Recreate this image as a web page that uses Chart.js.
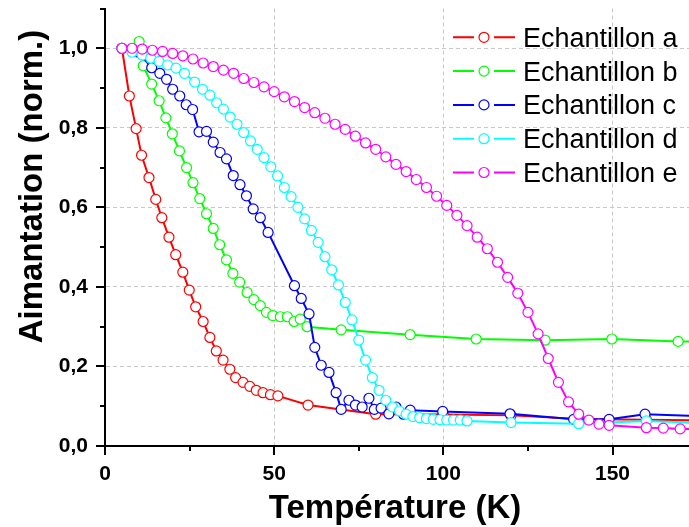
<!DOCTYPE html>
<html>
<head>
<meta charset="utf-8">
<script src="https://cdn.jsdelivr.net/npm/chart.js@4.4.1/dist/chart.umd.min.js"></script>
<style>
  html, body { margin: 0; padding: 0; background: #fff; }
</style>
</head>
<body>
<canvas id="grafico-aimantation" width="689" height="527"></canvas>
<script>
// Données (température en K, aimantation normalisée)
const nomsSeries = ['Echantillon a', 'Echantillon b', 'Echantillon c', 'Echantillon d', 'Echantillon e'];
const couleurs = ['#ff0000', '#00ff00', '#0000ff', '#00ffff', '#ff00ff'];

const tempA = [5, 7.2, 9.2, 10.8, 13, 15, 16.8, 18.9, 20.9, 23, 24.9, 26.8, 29, 31, 32.9, 34.9, 36.9, 38.6, 40.8, 42.8, 44.7, 46.7, 48.9, 51.1, 60, 80, 100, 120, 140, 160, 180];
const aimA = [1.0, 0.880, 0.798, 0.731, 0.675, 0.620, 0.574, 0.525, 0.481, 0.437, 0.392, 0.350, 0.313, 0.273, 0.239, 0.216, 0.193, 0.172, 0.160, 0.150, 0.140, 0.134, 0.129, 0.126, 0.103, 0.080, 0.079, 0.077, 0.068, 0.066, 0.064];

const tempB = [10.1, 11.3, 13.8, 16, 18, 19.9, 22, 24.1, 26, 28, 30, 32, 33.9, 35.9, 37.8, 39.8, 42, 44, 45.9, 47.7, 49.6, 51.8, 53.9, 55.9, 57.7, 59.7, 69.8, 90.2, 109.7, 130.1, 149.8, 169.4, 190];
const aimB = [1.017, 0.956, 0.910, 0.868, 0.825, 0.785, 0.742, 0.700, 0.662, 0.622, 0.584, 0.547, 0.506, 0.468, 0.434, 0.412, 0.386, 0.368, 0.353, 0.336, 0.328, 0.325, 0.325, 0.313, 0.319, 0.300, 0.292, 0.280, 0.269, 0.266, 0.269, 0.263, 0.262];

const tempC = [5, 10, 13.8, 16.2, 18.2, 20, 22.1, 24, 25.9, 27.8, 30, 32, 34, 35.9, 37.9, 39.9, 41.8, 43.8, 45.9, 48.2, 56, 58, 60.3, 62, 63.9, 66.2, 68.3, 69.8, 72.1, 74, 76, 78, 79.6, 81.6, 83.9, 86, 88.2, 90.2, 99.8, 119.7, 138.5, 149, 159.6, 180];
const aimC = [1.0, 0.99, 0.951, 0.937, 0.922, 0.897, 0.880, 0.858, 0.846, 0.790, 0.791, 0.764, 0.738, 0.722, 0.680, 0.657, 0.629, 0.596, 0.574, 0.537, 0.403, 0.371, 0.332, 0.248, 0.203, 0.185, 0.134, 0.092, 0.115, 0.103, 0.098, 0.120, 0.092, 0.095, 0.081, 0.098, 0.080, 0.090, 0.087, 0.081, 0.067, 0.067, 0.080, 0.074];

const tempD = [5, 8, 11, 13.5, 16, 18.5, 21, 23.5, 26.5, 28.8, 31, 33, 35, 37, 39, 41, 43, 45, 47, 49, 51, 53, 55, 57, 59, 61, 63, 65, 67, 69, 71, 73, 75, 77, 79, 81, 83, 85, 87, 89, 91, 93, 95, 97, 99, 101, 103, 105, 107, 120, 140, 160, 180];
const aimD = [1.0, 0.99, 0.983, 0.975, 0.967, 0.958, 0.950, 0.937, 0.915, 0.897, 0.882, 0.863, 0.847, 0.827, 0.809, 0.788, 0.767, 0.746, 0.725, 0.702, 0.679, 0.650, 0.627, 0.600, 0.571, 0.542, 0.512, 0.476, 0.443, 0.405, 0.361, 0.317, 0.266, 0.216, 0.172, 0.140, 0.115, 0.098, 0.088, 0.080, 0.074, 0.071, 0.069, 0.067, 0.066, 0.065, 0.065, 0.065, 0.063, 0.059, 0.056, 0.063, 0.057];

const tempE = [5, 8, 11, 14, 17, 20, 23, 26, 29, 32, 35, 38, 41, 44, 47, 50, 53, 56, 59, 62, 65, 68, 71, 74, 77, 80, 83, 86, 89, 92, 95, 98, 101, 104, 107, 110, 113, 116, 119, 122, 125, 128, 131, 134, 137, 140, 143, 146, 149, 160, 165, 170, 180];
const aimE = [1.0, 1.0, 0.998, 0.995, 0.992, 0.987, 0.981, 0.973, 0.963, 0.954, 0.945, 0.937, 0.924, 0.914, 0.903, 0.891, 0.878, 0.866, 0.851, 0.838, 0.824, 0.809, 0.796, 0.779, 0.762, 0.746, 0.727, 0.708, 0.690, 0.670, 0.650, 0.628, 0.605, 0.580, 0.554, 0.525, 0.496, 0.462, 0.424, 0.384, 0.336, 0.282, 0.220, 0.160, 0.111, 0.080, 0.065, 0.055, 0.052, 0.046, 0.045, 0.043, 0.042];

const temperatures = [tempA, tempB, tempC, tempD, tempE];
const aimantations = [aimA, aimB, aimC, aimD, aimE];

const titreX = 'Température (K)';
const titreY = 'Aimantation (norm.)';

const policeTitre = 'bold 33px "Liberation Sans", Arial, sans-serif';
const policeLegende = '27px "Liberation Sans", Arial, sans-serif';

// Jeux de données : e dessiné au-dessus, a en dessous
const datasets = nomsSeries.map((nom, i) => ({
  label: nom,
  data: temperatures[i].map((t, k) => ({ x: t, y: aimantations[i][k] })),
  borderColor: couleurs[i],
  backgroundColor: '#ffffff',
  borderWidth: 2,
  pointRadius: 5,
  pointBorderWidth: 1.2,
  pointBackgroundColor: '#ffffff',
  pointBorderColor: couleurs[i],
  tension: 0,
  order: 4 - i,
}));

// Petites et grandes graduations, vers l'extérieur
const graduations = {
  id: 'graduations',
  afterDraw(chart) {
    const ctx = chart.ctx;
    const sx = chart.scales.x, sy = chart.scales.y;
    const area = chart.chartArea;
    ctx.save();
    ctx.strokeStyle = '#000';
    ctx.lineWidth = 2;
    sx.ticks.forEach(t => {
      if (Math.abs(t.value % 25) > 1e-6) return;
      const px = Math.round(sx.getPixelForValue(t.value));
      const len = t.value % 50 === 0 ? 9 : 5;
      ctx.beginPath();
      ctx.moveTo(px, area.bottom);
      ctx.lineTo(px, area.bottom + len);
      ctx.stroke();
    });
    sy.ticks.forEach(t => {
      const n = Math.round(t.value * 10);
      const py = Math.round(sy.getPixelForValue(t.value));
      const len = n % 2 === 0 ? 9 : 5;
      ctx.beginPath();
      ctx.moveTo(area.left, py);
      ctx.lineTo(area.left - len, py);
      ctx.stroke();
    });
    ctx.restore();
  }
};

// Titres des axes
const titres = {
  id: 'titres',
  afterDraw(chart) {
    const ctx = chart.ctx;
    const area = chart.chartArea;
    ctx.save();
    ctx.fillStyle = '#000';
    ctx.font = policeTitre;
    ctx.textAlign = 'center';
    ctx.textBaseline = 'alphabetic';
    ctx.fillText(titreX, (area.left + area.right) / 2 - 2, chart.height - 9);
    ctx.translate(42, 186.5);
    ctx.rotate(-Math.PI / 2);
    ctx.fillText(titreY, 0, 0);
    ctx.restore();
  }
};

// Légende style Origin : trait - cercle - trait
const legende = {
  id: 'legende',
  afterDraw(chart) {
    const ctx = chart.ctx;
    ctx.save();
    nomsSeries.forEach((nom, i) => {
      const y = 37.3 + i * 33.8;
      ctx.strokeStyle = couleurs[i];
      ctx.lineWidth = 2;
      ctx.beginPath();
      ctx.moveTo(453, y); ctx.lineTo(474, y);
      ctx.moveTo(494, y); ctx.lineTo(515, y);
      ctx.stroke();
      ctx.lineWidth = 1.2;
      ctx.fillStyle = '#fff';
      ctx.beginPath();
      ctx.arc(484, y, 5, 0, Math.PI * 2);
      ctx.fill();
      ctx.stroke();
      ctx.fillStyle = '#000';
      ctx.font = policeLegende;
      ctx.textAlign = 'left';
      ctx.textBaseline = 'alphabetic';
      ctx.fillText(nom, 523, y + 9.5);
    });
    ctx.restore();
  }
};

const ctx = document.getElementById('grafico-aimantation').getContext('2d');
new Chart(ctx, {
  type: 'line',
  data: { datasets },
  plugins: [graduations, titres, legende],
  options: {
    responsive: false,
    animation: false,
    layout: { autoPadding: false, padding: { top: 8.5, right: 0, left: 0, bottom: 0 } },
    plugins: {
      legend: { display: false },
      tooltip: { enabled: false },
    },
    scales: {
      x: {
        type: 'linear',
        min: 0,
        max: 172.6,
        afterFit: s => { s.height = 81; s.paddingLeft = 0; s.paddingRight = 0; },
        border: { display: true, color: '#000', width: 2, dash: [4, 3] },
        grid: {
          drawTicks: false,
          lineWidth: 1,
          color: c => (c.tick && c.tick.value % 50 === 0 && c.tick.value !== 0) ? '#c8c8c8' : 'rgba(0,0,0,0)',
        },
        ticks: {
          stepSize: 25,
          includeBounds: false,
          padding: 16,
          maxRotation: 0,
          autoSkip: false,
          color: '#000',
          font: { family: '"Liberation Sans", Arial, sans-serif', size: 21, weight: 'bold' },
          callback: v => (v % 50 === 0 ? String(v) : ''),
        },
      },
      y: {
        type: 'linear',
        min: 0,
        max: 1.1,
        afterFit: s => { s.width = 105; s.paddingTop = 0; s.paddingBottom = 0; },
        border: { display: true, color: '#000', width: 2, dash: [4, 3] },
        grid: {
          drawTicks: false,
          lineWidth: 1,
          color: c => {
            if (!c.tick) return 'rgba(0,0,0,0)';
            const n = Math.round(c.tick.value * 10);
            return (n % 2 === 0 && n !== 0) ? '#c8c8c8' : 'rgba(0,0,0,0)';
          },
        },
        ticks: {
          stepSize: 0.1,
          padding: 17,
          autoSkip: false,
          color: '#000',
          font: { family: '"Liberation Sans", Arial, sans-serif', size: 21, weight: 'bold' },
          callback: v => {
            const n = Math.round(v * 10);
            return n % 2 === 0 ? (n / 10).toFixed(1).replace('.', ',') : '';
          },
        },
      },
    },
  },
});
</script>
</body>
</html>
